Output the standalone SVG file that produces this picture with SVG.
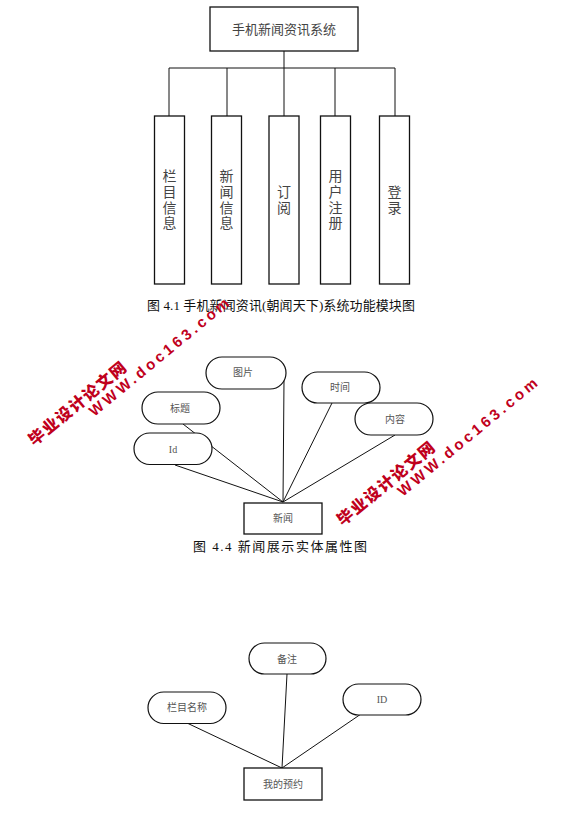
<svg xmlns="http://www.w3.org/2000/svg" xmlns:xlink="http://www.w3.org/1999/xlink" width="568" height="827" viewBox="0 0 568 827">
<defs>
<style>
.box{fill:#fff;stroke:#111;stroke-width:1.3}
.pill{fill:#fff;stroke:#111;stroke-width:1.2}
.ln{stroke:#111;stroke-width:1;fill:none}
.t14{font-family:"Liberation Serif","Noto Sans CJK SC",serif;font-size:14px;fill:#444;text-anchor:middle}
.t13{font-family:"Liberation Serif","Noto Sans CJK SC",serif;font-size:13px;fill:#444;text-anchor:middle}
.ts{font-family:"Liberation Serif","Noto Sans CJK SC",serif;font-size:10px;fill:#555;text-anchor:middle}
.cap{font-family:"Liberation Serif","Noto Sans CJK SC",serif;font-size:13px;fill:#111}
.wm1{font-family:"Noto Sans CJK SC",sans-serif;font-weight:900;font-size:16px;fill:#c0001c}
.wm2{font-family:"Liberation Sans","Noto Sans CJK SC",sans-serif;font-weight:bold;font-size:15px;fill:#c0001c}
</style>
<g id="wm">
<text class="wm1" x="-8" y="6" textLength="121" lengthAdjust="spacing">毕业设计论文网</text>
<text class="wm2" x="57" y="21.5" textLength="176" lengthAdjust="spacing">WWW.doc163.com</text>
</g>
</defs>
<rect width="568" height="827" fill="#fff"/>

<g id="connectors">
<line class="ln" x1="284" y1="51" x2="284" y2="68" stroke-width="2.2"/>
<line class="ln" x1="169" y1="68" x2="395" y2="68"/>
<line class="ln" x1="169" y1="68" x2="169" y2="116"/>
<line class="ln" x1="227" y1="68" x2="227" y2="116"/>
<line class="ln" x1="284" y1="68" x2="284" y2="116" stroke="#555"/>
<line class="ln" x1="335" y1="68" x2="335" y2="116"/>
<line class="ln" x1="395" y1="68" x2="395" y2="116"/>
<line class="ln" x1="284" y1="380" x2="283" y2="502"/>
<line class="ln" x1="183" y1="424" x2="283" y2="502"/>
<line class="ln" x1="175" y1="465" x2="283" y2="502"/>
<line class="ln" x1="332" y1="403" x2="283" y2="502"/>
<line class="ln" x1="395" y1="435" x2="283" y2="502"/>
<line class="ln" x1="287" y1="674" x2="282" y2="768"/>
<line class="ln" x1="187" y1="723" x2="282" y2="768"/>
<line class="ln" x1="361" y1="714" x2="282" y2="768"/>
</g>

<g id="sys">
<rect class="box" x="210" y="7" width="148" height="44"/>
<text class="t13" x="284" y="34">手机新闻资讯系统</text>
</g>
<g id="m1">
<rect class="box" x="154.5" y="116" width="30" height="168"/>
<text class="t14"><tspan x="169.5" y="181">栏</tspan><tspan x="169.5" y="197">目</tspan><tspan x="169.5" y="212.5">信</tspan><tspan x="169.5" y="228">息</tspan></text>
</g>
<g id="m2">
<rect class="box" x="211.5" y="116" width="30" height="168"/>
<text class="t14"><tspan x="226.5" y="181">新</tspan><tspan x="226.5" y="197">闻</tspan><tspan x="226.5" y="212.5">信</tspan><tspan x="226.5" y="228">息</tspan></text>
</g>
<g id="m3">
<rect class="box" x="269" y="116" width="30" height="168"/>
<text class="t14"><tspan x="284" y="197">订</tspan><tspan x="284" y="212.5">阅</tspan></text>
</g>
<g id="m4">
<rect class="box" x="320.5" y="116" width="30" height="168"/>
<text class="t14"><tspan x="335.5" y="181">用</tspan><tspan x="335.5" y="197">户</tspan><tspan x="335.5" y="212.5">注</tspan><tspan x="335.5" y="228">册</tspan></text>
</g>
<g id="m5">
<rect class="box" x="379.5" y="116" width="30" height="168"/>
<text class="t14"><tspan x="394.5" y="197">登</tspan><tspan x="394.5" y="212.5">录</tspan></text>
</g>
<text class="cap" x="147" y="310" textLength="268" lengthAdjust="spacing">图 4.1  手机新闻资讯(朝闻天下)系统功能模块图</text>

<g id="tupian">
<rect class="pill" x="206" y="357" width="80" height="32" rx="16"/>
<text class="ts" x="243" y="376">图片</text>
</g>
<g id="biaoti">
<rect class="pill" x="142" y="392" width="78" height="32" rx="16"/>
<text class="ts" x="180" y="412">标题</text>
</g>
<g id="id1">
<rect class="pill" x="134" y="433" width="78" height="31.5" rx="15.75"/>
<text class="ts" x="173" y="452.5">Id</text>
</g>
<g id="shijian">
<rect class="pill" x="302" y="372" width="78" height="31" rx="15.5"/>
<text class="ts" x="340" y="391">时间</text>
</g>
<g id="neirong">
<rect class="pill" x="355" y="403" width="78" height="32" rx="16"/>
<text class="ts" x="395" y="422.5">内容</text>
</g>
<g id="xinwen">
<rect class="box" x="244" y="503" width="78" height="31"/>
<text class="ts" x="283" y="522">新闻</text>
</g>
<text class="cap" x="193" y="551" font-size="14" textLength="174" lengthAdjust="spacing">图 4.4 新闻展示实体属性图</text>

<g id="beizhu">
<rect class="pill" x="249" y="643" width="77" height="31" rx="15.5"/>
<text class="ts" x="287" y="662.5">备注</text>
</g>
<g id="lanmu">
<rect class="pill" x="148" y="692" width="78" height="31.5" rx="15.75"/>
<text class="ts" x="187" y="711">栏目名称</text>
</g>
<g id="id2">
<rect class="pill" x="343" y="684" width="78" height="31" rx="15.5"/>
<text class="ts" x="382" y="702.5">ID</text>
</g>
<g id="yuyue">
<rect class="box" x="244" y="768" width="78" height="32"/>
<text class="ts" x="283" y="788">我的预约</text>
</g>

<use xlink:href="#wm" transform="translate(36.7,436.7) rotate(-39.5)"/>
<use xlink:href="#wm" transform="translate(345,516.7) rotate(-39.5)"/>
</svg>
